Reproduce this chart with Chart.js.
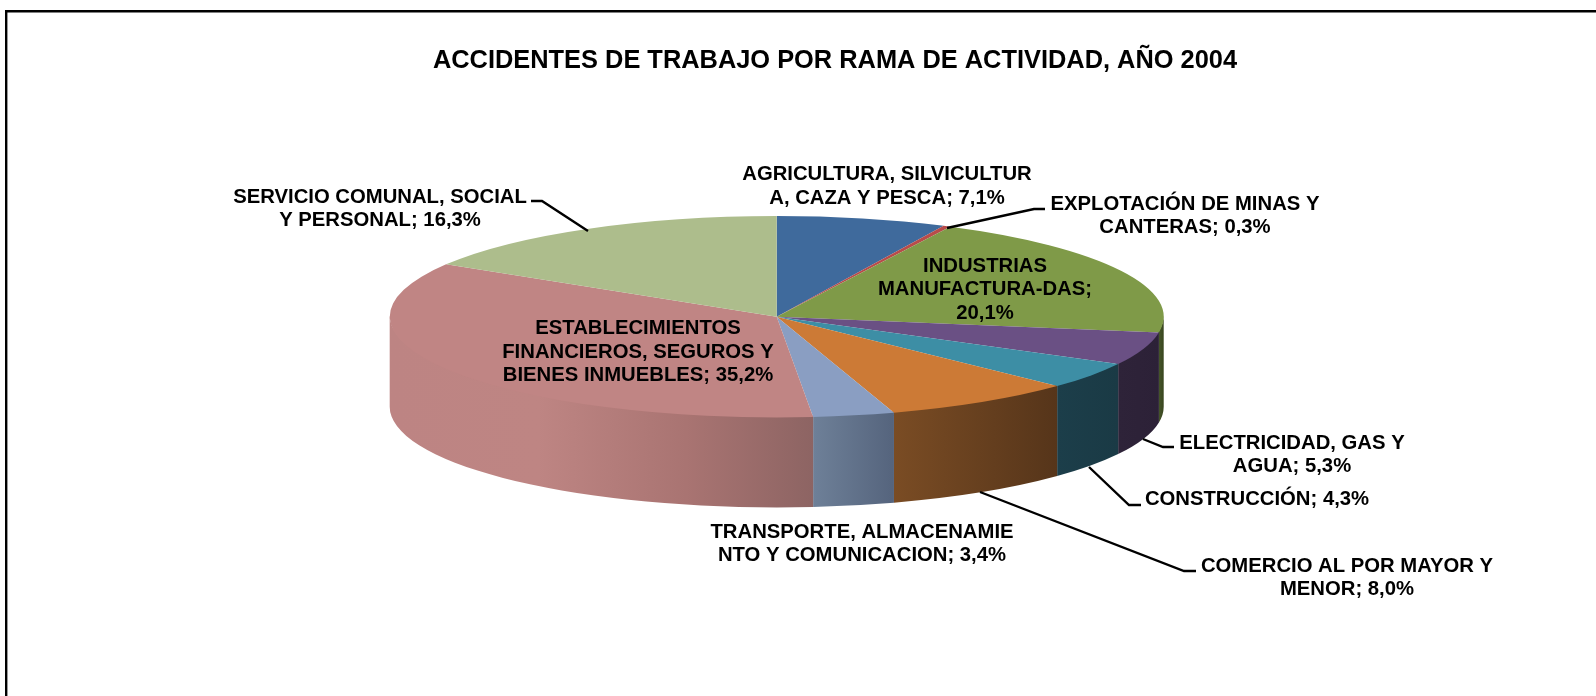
<!DOCTYPE html>
<html>
<head>
<meta charset="utf-8">
<style>html,body{margin:0;padding:0;background:#fff}#wrap{width:1596px;height:696px;position:relative}canvas{display:block}</style>
<script src="https://cdn.jsdelivr.net/npm/chart.js@4/dist/chart.umd.min.js"></script>
</head>
<body>
<div id="wrap"><canvas id="c" width="1596" height="696"></canvas></div>
<script>
const chartTitle = "ACCIDENTES DE TRABAJO POR RAMA DE ACTIVIDAD, AÑO 2004";
const categories = [
  "AGRICULTURA, SILVICULTURA, CAZA Y PESCA",
  "EXPLOTACIÓN DE MINAS Y CANTERAS",
  "INDUSTRIAS MANUFACTURA-DAS",
  "ELECTRICIDAD, GAS Y AGUA",
  "CONSTRUCCIÓN",
  "COMERCIO AL POR MAYOR Y MENOR",
  "TRANSPORTE, ALMACENAMIENTO Y COMUNICACION",
  "ESTABLECIMIENTOS FINANCIEROS, SEGUROS Y BIENES INMUEBLES",
  "SERVICIO COMUNAL, SOCIAL Y PERSONAL"
];
const shares = [7.1, 0.3, 20.1, 5.3, 4.3, 8.0, 3.4, 35.2, 16.3];
const labelLines = [
  ["AGRICULTURA, SILVICULTUR", "A, CAZA Y PESCA; #"],
  ["EXPLOTACIÓN DE MINAS Y", "CANTERAS; #"],
  ["INDUSTRIAS", "MANUFACTURA-DAS;", "#"],
  ["ELECTRICIDAD, GAS Y", "AGUA; #"],
  ["CONSTRUCCIÓN; #"],
  ["COMERCIO AL POR MAYOR Y", "MENOR; #"],
  ["TRANSPORTE, ALMACENAMIE", "NTO Y COMUNICACION; #"],
  ["ESTABLECIMIENTOS", "FINANCIEROS, SEGUROS Y", "BIENES INMUEBLES; #"],
  ["SERVICIO COMUNAL, SOCIAL", "Y PERSONAL; #"]
];
const topColors = ["#3F6A9C","#B84C4A","#7F9A48","#6A5084","#3D8EA5","#CC7A36","#8A9EC2","#C08584","#ADBD8C"];
const wallStops = [
  [["#3F6A9C",0],["#3F6A9C",1]],
  [["#B84C4A",0],["#B84C4A",1]],
  [["#46552A",0],["#39461F",1]],
  [["#2E2339",0],["#2C2137",1]],
  [["#1C3E4A",0],["#1A3A45",1]],
  [["#7A4C24",0],["#56351A",1]],
  [["#6E8098",0],["#55647D",1]],
  [["#BD8483",0],["#BE8583",0.35],["#A97472",0.7],["#8D6463",1]],
  [["#ADBD8C",0],["#ADBD8C",1]]
];
/* anchor of each label's text block and its leader line */
const labelPlace = [
  {x:887, y:174.5},
  {x:1185,y:204, lead:[[947,228],[1034,209],[1045,209]]},
  {x:985, y:266},
  {x:1292,y:443, lead:[[1143,439],[1163,447],[1174,447]]},
  {x:1257,y:499.5, lead:[[1089,467],[1129,505],[1141,505]]},
  {x:1347,y:566, lead:[[980,492],[1184,571],[1196,571]]},
  {x:862, y:532},
  {x:638, y:328.5},
  {x:380, y:197, lead:[[588,231],[542,201],[531,201]]}
];
const pieBox = {cx:776.7, cy:316.7, rx:387, ry:100.7, depth:90};
const labelFont = "bold 20.3px 'Liberation Sans', Arial, sans-serif";
const lineStep = 23.7;

const fmt = v => v.toFixed(1).replace(".", ",") + "%";

const pie3d = {
  id: "pie3d",
  beforeDraw(chart){
    const c = chart.ctx;
    c.save();
    c.fillStyle = "#fff";
    c.fillRect(0,0,chart.width,chart.height);
    c.strokeStyle = "#000";
    c.lineWidth = 2.4;
    c.beginPath();
    c.moveTo(6.2,chart.height);
    c.lineTo(6.2,11.2);
    c.lineTo(chart.width,11.2);
    c.stroke();
    c.restore();
  },
  beforeDatasetsDraw(chart){
    const c = chart.ctx, meta = chart.getDatasetMeta(0);
    const P = pieBox;
    // side wall: the front half of each slice, extruded downwards
    meta.data.forEach((arc,i)=>{
      const a0 = Math.max(arc.startAngle, 0), a1 = Math.min(arc.endAngle, Math.PI);
      if (a1 <= a0) return;
      const x0 = P.cx + P.rx*Math.cos(a0), x1 = P.cx + P.rx*Math.cos(a1);
      const g = c.createLinearGradient(x1,0,x0,0);
      wallStops[i].forEach(([col,t])=>g.addColorStop(t,col));
      c.beginPath();
      c.ellipse(P.cx,P.cy-1.5,P.rx,P.ry,0,a0,a1,false);
      c.ellipse(P.cx,P.cy+P.depth,P.rx,P.ry,0,a1,a0,true);
      c.closePath();
      c.fillStyle = g;
      c.fill();
    });
    // top surface: the library's own arcs, viewed tilted
    const first = meta.data[0];
    c.save();
    c.translate(P.cx,P.cy);
    c.scale(P.rx/first.outerRadius, P.ry/first.outerRadius);
    c.translate(-first.x,-first.y);
  },
  afterDatasetsDraw(chart){
    chart.ctx.restore();
  },
  afterDraw(chart){
    const c = chart.ctx;
    c.save();
    c.strokeStyle = "#000";
    c.lineWidth = 2.4;
    c.lineJoin = "miter";
    labelPlace.forEach(p=>{
      if(!p.lead) return;
      c.beginPath();
      p.lead.forEach(([x,y],k)=> k ? c.lineTo(x,y) : c.moveTo(x,y));
      c.stroke();
    });
    c.fillStyle = "#000";
    c.font = labelFont;
    c.textAlign = "center";
    c.textBaseline = "middle";
    labelLines.forEach((lines,i)=>{
      lines.forEach((t,k)=>{
        c.fillText(t.replace("#",fmt(shares[i])), labelPlace[i].x, labelPlace[i].y + k*lineStep);
      });
    });
    c.restore();
  }
};

new Chart(document.getElementById("c"), {
  type: "pie",
  data: {
    labels: categories,
    datasets: [{
      data: shares,
      backgroundColor: topColors,
      borderWidth: 0,
      hoverOffset: 0
    }]
  },
  options: {
    responsive: false,
    animation: false,
    rotation: 0,
    layout: {padding: {left: 74, top: 0, right: 0, bottom: 0}},
    plugins: {
      legend: {display: false},
      tooltip: {enabled: false},
      title: {
        display: true,
        text: chartTitle,
        fullSize: false,
        color: "#000",
        font: {family: "'Liberation Sans', Arial, sans-serif", size: 25.4, weight: "bold"},
        padding: {top: 46, bottom: 10}
      }
    }
  },
  plugins: [pie3d]
});
</script>
</body>
</html>
